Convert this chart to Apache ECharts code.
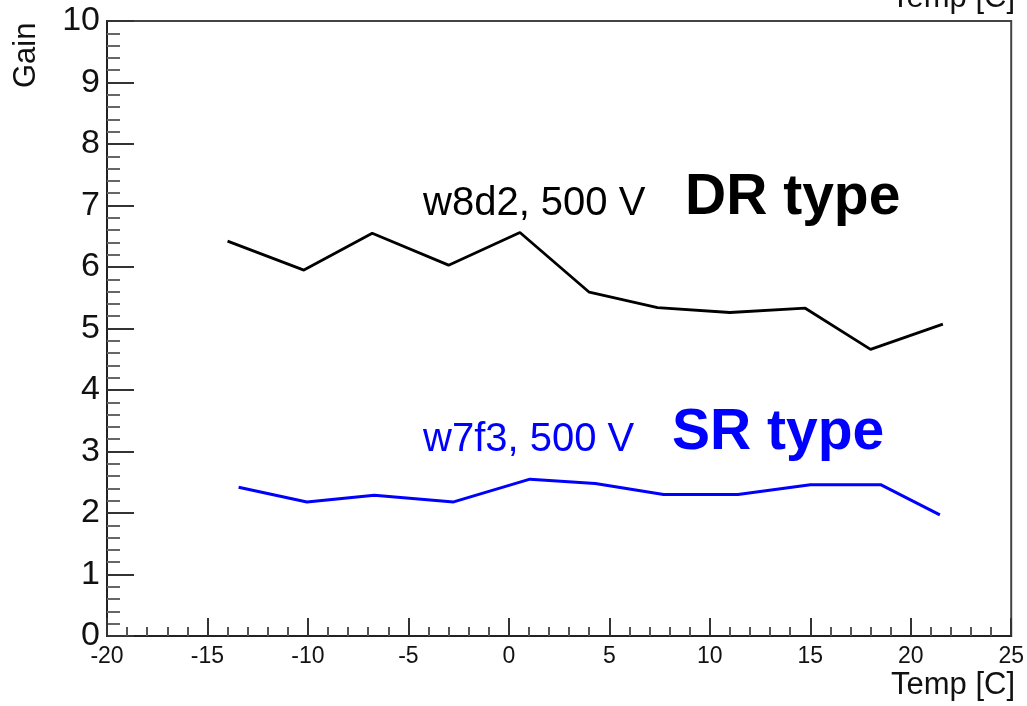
<!DOCTYPE html>
<html>
<head>
<meta charset="utf-8">
<script src="https://cdn.jsdelivr.net/npm/echarts@6/dist/echarts.min.js"></script>
<style>
html,body{margin:0;padding:0;background:#fff;}
#chart{width:1027px;height:706px;}
</style>
</head>
<body>
<div id="chart"></div>
<script>
// Data
const drTemps = [-14.0, -10.2, -6.8, -3.0, 0.55, 4.0, 7.4, 11.0, 14.75, 18.0, 21.6];
const drGain  = [6.42, 5.95, 6.55, 6.03, 6.56, 5.59, 5.34, 5.26, 5.33, 4.66, 5.07];
const srTemps = [-13.45, -10.05, -6.7, -2.75, 1.05, 4.3, 7.7, 11.4, 15.0, 18.5, 21.45];
const srGain  = [2.42, 2.18, 2.29, 2.18, 2.55, 2.48, 2.30, 2.30, 2.46, 2.46, 1.97];
const xTickLabels = [-20, -15, -10, -5, 0, 5, 10, 15, 20, 25];
const yTickLabels = [0, 1, 2, 3, 4, 5, 6, 7, 8, 9, 10];
const drLabel = 'w8d2, 500 V';
const drType = 'DR type';
const srLabel = 'w7f3, 500 V';
const srType = 'SR type';
const xTitle = 'Temp [C]';
const yTitle = 'Gain';

const pair = (xs, ys) => xs.map((x, i) => [x, ys[i]]);
const FONT = '"Liberation Sans", Arial, Helvetica, sans-serif';

const chart = echarts.init(document.getElementById('chart'), null, {renderer: 'canvas'});
chart.setOption({
  animation: false,
  backgroundColor: '#ffffff',
  grid: {left: 107, right: 12, top: 21, bottom: 70, show: true, borderColor: '#444', borderWidth: 2, backgroundColor: 'transparent'},
  xAxis: {
    type: 'value', min: xTickLabels[0], max: xTickLabels[xTickLabels.length - 1], interval: 5,
    axisLine: {show: true, onZero: false, lineStyle: {color: '#222', width: 2}},
    axisTick: {show: true, inside: true, length: 18, lineStyle: {color: '#333', width: 2}},
    minorTick: {show: true, splitNumber: 5, length: 9, lineStyle: {color: '#555', width: 2}},
    splitLine: {show: false},
    axisLabel: {fontFamily: FONT, fontSize: 23, color: '#111', margin: 9, showMinLabel: true, showMaxLabel: true}
  },
  yAxis: {
    type: 'value', min: yTickLabels[0], max: yTickLabels[yTickLabels.length - 1], interval: 1,
    axisLine: {show: true, onZero: false, lineStyle: {color: '#222', width: 2}},
    axisTick: {show: true, inside: true, length: 27, lineStyle: {color: '#333', width: 2}},
    minorTick: {show: true, splitNumber: 5, length: 13, lineStyle: {color: '#666', width: 2}},
    splitLine: {show: false},
    axisLabel: {fontFamily: FONT, fontSize: 34, color: '#111', margin: 7}
  },
  series: [
    {type: 'line', data: pair(drTemps, drGain), showSymbol: false, lineStyle: {color: '#000', width: 2.8}, z: 3},
    {type: 'line', data: pair(srTemps, srGain), showSymbol: false, lineStyle: {color: '#0000ff', width: 3}, z: 3}
  ],
  graphic: [
    {type: 'text', left: 423, top: 184, style: {text: drLabel, font: '40px ' + FONT, fill: '#000'}},
    {type: 'text', left: 685, top: 170, style: {text: drType, font: 'bold 57px ' + FONT, fill: '#000'}},
    {type: 'text', left: 423, top: 420, style: {text: srLabel, font: '40px ' + FONT, fill: '#0000ff'}},
    {type: 'text', left: 672, top: 405, style: {text: srType, font: 'bold 57px ' + FONT, fill: '#0000ff'}},
    {type: 'text', right: 12, top: 670, style: {text: xTitle, font: '31px ' + FONT, fill: '#111'}},
    {type: 'text', right: 12, top: -17, style: {text: xTitle, font: '31px ' + FONT, fill: '#111'}},
    {type: 'text', x: 11, y: 88, rotation: Math.PI / 2, style: {text: yTitle, font: '31px ' + FONT, fill: '#111'}}
  ]
});
</script>
</body>
</html>
